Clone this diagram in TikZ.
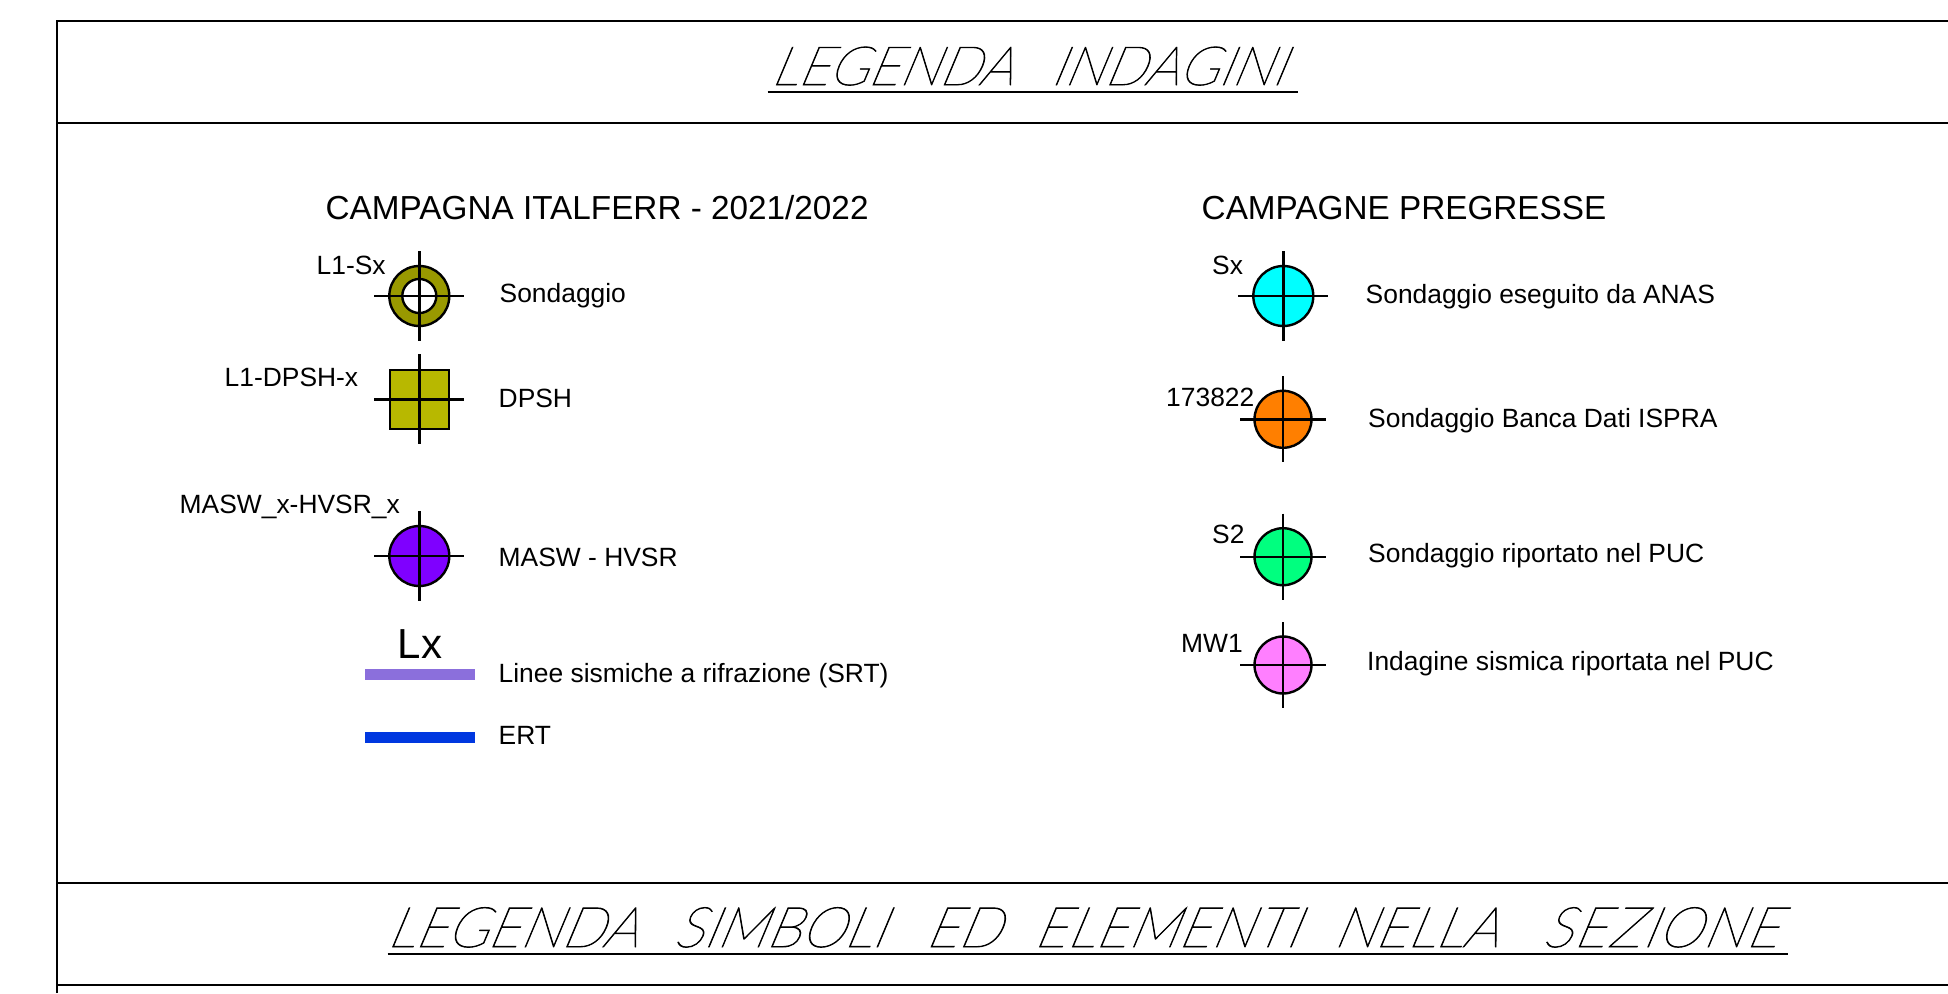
\documentclass[tikz,border=0pt]{standalone}
\usepackage{fontspec}
\setmainfont{Liberation Sans}
\newfontfamily\titfont[FakeSlant=0.42,FakeStretch=0.99,FakeBold=1.5]{Lato Thin}
\tikzset{
  x=1pt,y=-1pt,
  lab/.style={anchor=base west,inner sep=0pt,font=\fontsize{26.4}{30}\selectfont},
  head/.style={anchor=base west,inner sep=0pt,font=\fontsize{33.3}{36}\selectfont},
  title/.style={anchor=base west,inner sep=0pt,font=\titfont\fontsize{54}{60}\selectfont},
  titleb/.style={anchor=base west,inner sep=0pt,font=\titfont\fontsize{56}{60}\selectfont},
  symline/.style={line width=2.4pt,black},
  frameline/.style={line width=2pt,black},
  rule/.style={line width=2.2pt,black},
  disc/.style={circle,draw=black,line width=2.4pt,inner sep=0pt,minimum size=#1},
  sqsym/.style={rectangle,draw=black,line width=2.6pt,inner sep=0pt,minimum size=59pt},
  band/.style={line width=11pt}
}
\newcommand{\crossat}[2]{%
  \draw[symline] ([xshift=-#2pt]#1.center) -- ([xshift=#2pt]#1.center);
  \draw[symline] ([yshift=#2pt]#1.center) -- ([yshift=-#2pt]#1.center);}
\newcommand{\spacedword}[2]{{\addfontfeature{LetterSpace=#1}#2}}
\begin{document}
\begin{tikzpicture}
\useasboundingbox (0,0) rectangle (1948,993);
% frame
\coordinate (ftl) at (56.5,21);
\coordinate (fbl) at (56.5,993);
\coordinate (ftr) at (1948,21);
\coordinate (l2a) at (56.5,123); \coordinate (l2b) at (1948,123);
\coordinate (l3a) at (56.5,882.5); \coordinate (l3b) at (1948,882.5);
\coordinate (l4a) at (56.5,985); \coordinate (l4b) at (1948,985);
\draw[frameline] (fbl) -- (ftl) -- (ftr);
\draw[frameline] (l2a) -- (l2b);
\draw[frameline] (l3a) -- (l3b);
\draw[frameline] (l4a) -- (l4b);
% titles
\node[title] (t1) at (770,85) {LEGENDA\hspace{38pt}\spacedword{0.5}{INDAGINI}};
\coordinate (u1a) at (767.6,91.7); \coordinate (u1b) at (1298,91.7);
\draw[rule] (u1a) -- (u1b);
\node[titleb] (t2) at (386,947) {LEGENDA\hspace{36pt}SIMBOLI\hspace{40.5pt}ED\hspace{34pt}\spacedword{1}{ELEMENTI}\hspace{35pt}NELLA\hspace{44.5pt}\spacedword{3}{SEZIONE}};
\coordinate (u2a) at (387.5,954); \coordinate (u2b) at (1788,954);
\draw[rule] (u2a) -- (u2b);
% headings
\node[head] (h1) at (325.5,219) {CAMPAGNA ITALFERR - 2021/2022};
\node[head] (h2) at (1201.5,219) {CAMPAGNE PREGRESSE};
% left symbols
\node[disc=60pt,fill={rgb,255:red,153;green,153;blue,0}] (s1) at (419.3,296) {};
\node[disc=34pt,fill=white] (s1i) at (419.3,296) {};
\crossat{s1}{45}
\node[lab] (s1l) at (316.5,274.5) {L1-Sx};
\node[lab] (s1t) at (499.5,302.5) {Sondaggio};
\node[sqsym,fill={rgb,255:red,184;green,184;blue,0}] (s2) at (419.3,399.3) {};
\crossat{s2}{45}
\node[lab] (s2l) at (224.5,386.5) {L1-DPSH-x};
\node[lab] (s2t) at (498.5,407) {DPSH};
\node[disc=60pt,fill={rgb,255:red,127;green,0;blue,255}] (s3) at (419.3,556) {};
\crossat{s3}{45}
\node[lab] (s3l) at (179.5,513.5) {MASW\_x-HVSR\_x};
\node[lab] (s3t) at (498.5,566) {MASW - HVSR};
\node[anchor=base west,inner sep=0pt,font=\fontsize{42}{44}\selectfont] (lx) at (397.5,658) {Lx};
\coordinate (b1a) at (365,674.5); \coordinate (b1b) at (474.5,674.5);
\draw[band,draw={rgb,255:red,139;green,111;blue,220}] (b1a) -- (b1b);
\node[lab] (b1t) at (498.5,682.5) {Linee sismiche a rifrazione (SRT)};
\coordinate (b2a) at (365,737.3); \coordinate (b2b) at (474.5,737.3);
\draw[band,draw={rgb,255:red,0;green,56;blue,224}] (b2a) -- (b2b);
\node[lab] (b2t) at (498.5,744.3) {ERT};
% right symbols
\node[disc=60pt,fill={rgb,255:red,0;green,255;blue,255}] (r1) at (1283.3,296) {};
\crossat{r1}{45}
\node[lab] (r1l) at (1212,274.5) {Sx};
\node[lab] (r1t) at (1365.5,303) {Sondaggio eseguito da ANAS};
\node[disc=57pt,fill={rgb,255:red,255;green,127;blue,0}] (r2) at (1283,419.3) {};
\crossat{r2}{43}
\node[lab] (r2l) at (1166,406) {173822};
\node[lab] (r2t) at (1368,427.2) {Sondaggio Banca Dati ISPRA};
\node[disc=57pt,fill={rgb,255:red,0;green,255;blue,127}] (r3) at (1283,556.7) {};
\crossat{r3}{43}
\node[lab] (r3l) at (1212,543.5) {S2};
\node[lab] (r3t) at (1368,562) {Sondaggio riportato nel PUC};
\node[disc=57pt,fill={rgb,255:red,255;green,127;blue,255}] (r4) at (1283,665) {};
\crossat{r4}{43}
\node[lab] (r4l) at (1181,652.2) {MW1};
\node[lab] (r4t) at (1367,670) {Indagine sismica riportata nel PUC};
\end{tikzpicture}
\end{document}
